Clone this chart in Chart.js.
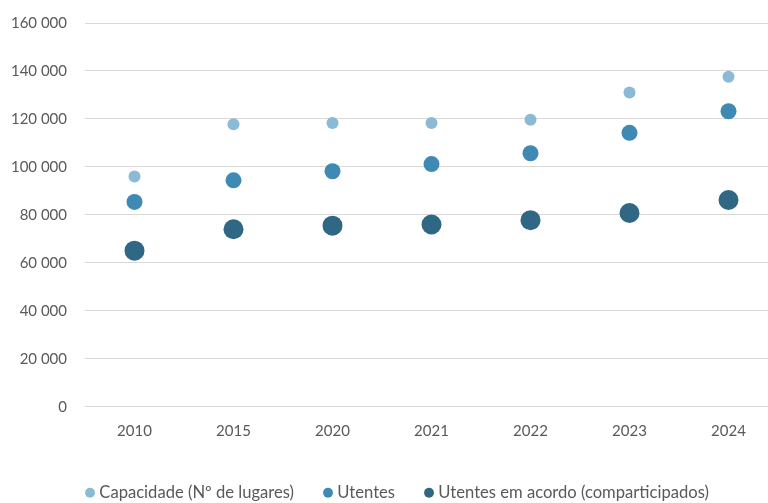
<!DOCTYPE html>
<html>
<head>
<meta charset="utf-8">
<script src="https://cdn.jsdelivr.net/npm/chart.js@4/dist/chart.umd.min.js"></script>
<style>
  html, body { margin: 0; padding: 0; background: #fff; overflow: hidden; width: 768px; height: 503px; }
  #wrap { position: absolute; left: 0; top: -4px; width: 778px; height: 515px; }
</style>
</head>
<body>
<div id="wrap"><canvas id="c"></canvas></div>
<script>
const categories = ['2010', '2015', '2020', '2021', '2022', '2023', '2024'];
const capacidade = [96000, 117800, 118300, 118300, 119700, 131000, 137600];
const utentes = [85400, 94400, 98200, 101200, 105700, 114200, 123200];
const utentesAcordo = [65100, 74000, 75500, 76000, 77800, 80800, 86200];
const seriesNames = ['Capacidade (Nº de lugares)', 'Utentes', 'Utentes em acordo (comparticipados)'];
const yTicks = [0, 20000, 40000, 60000, 80000, 100000, 120000, 140000, 160000];

const fmt = v => String(v).replace(/\B(?=(\d{3})+(?!\d))/g, ' ');
const FONT = 'Lato';
const TEXT = '#595959';

const shiftLegend = {
  id: 'shiftLegend',
  afterLayout(chart) {
    if (chart.legend) { chart.legend.left += 10; chart.legend.right += 10; }
  }
};

new Chart(document.getElementById('c'), {
  type: 'line',
  data: {
    labels: categories,
    datasets: [
      { label: seriesNames[0], data: capacidade, showLine: false, pointRadius: 6, pointHoverRadius: 6,
        backgroundColor: '#8BBAD5', borderColor: '#8BBAD5', pointBorderWidth: 0 },
      { label: seriesNames[1], data: utentes, showLine: false, pointRadius: 8, pointHoverRadius: 8,
        backgroundColor: '#3F8AB4', borderColor: '#3F8AB4', pointBorderWidth: 0 },
      { label: seriesNames[2], data: utentesAcordo, showLine: false, pointRadius: 10, pointHoverRadius: 10,
        backgroundColor: '#2F6785', borderColor: '#2F6785', pointBorderWidth: 0 }
    ]
  },
  plugins: [shiftLegend],
  options: {
    responsive: true,
    maintainAspectRatio: false,
    animation: false,
    layout: { autoPadding: false, padding: { top: 20, left: 0, right: 0, bottom: 0 } },
    plugins: {
      tooltip: { enabled: false },
      legend: {
        position: 'bottom',
        labels: {
          usePointStyle: true,
          pointStyle: 'circle',
          boxWidth: 2,
          boxHeight: 7,
          padding: 33,
          color: TEXT,
          font: { family: FONT, size: 16.6 }
        }
      }
    },
    scales: {
      x: {
        offset: true,
        grid: { display: false, drawTicks: false },
        border: { display: false },
        ticks: { color: TEXT, font: { family: FONT, size: 15 }, padding: 15, maxRotation: 0 },
        afterFit: s => { s.height = 44.6; }
      },
      y: {
        min: 0, max: 160000,
        afterBuildTicks: s => { s.ticks = yTicks.map(v => ({ value: v })); },
        grid: { color: '#D9D9D9', lineWidth: 1, drawTicks: false },
        border: { display: false },
        ticks: { color: TEXT, font: { family: FONT, size: 15 }, padding: 18, callback: v => fmt(v) },
        afterFit: s => { s.width = 85; }
      }
    }
  }
});
</script>
</body>
</html>
